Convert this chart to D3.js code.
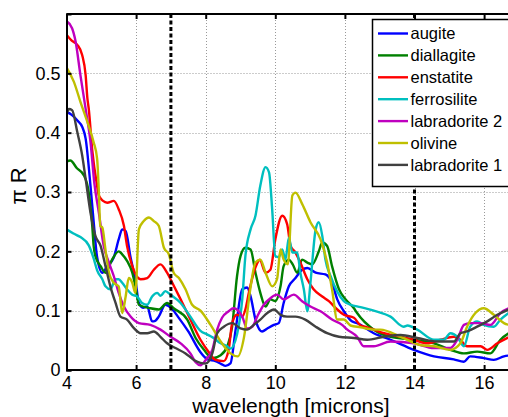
<!DOCTYPE html>
<html>
<head>
<meta charset="utf-8">
<script src="https://cdn.jsdelivr.net/npm/d3@7"></script>
<style>
  body { margin: 0; background: #fff; }
  svg { display: block; font-family: "Liberation Sans", Arial, sans-serif; }
</style>
</head>
<body>
<svg width="508" height="417"></svg>
<script>
// spectra, [wavelength, pi*R]
const augite = [[4.0,0.435],[4.15,0.43],[4.32,0.42],[4.45,0.41],[4.55,0.39],[4.69,0.31],[4.78,0.25],[4.88,0.19],[5.03,0.164],[5.17,0.175],[5.36,0.19],[5.5,0.22],[5.6,0.237],[5.7,0.234],[5.84,0.19],[5.98,0.152],[6.08,0.113],[6.2,0.105],[6.32,0.107],[6.46,0.082],[6.55,0.083],[6.65,0.09],[6.84,0.11],[7.0,0.105],[7.2,0.09],[7.5,0.065],[7.85,0.03],[8.05,0.018],[8.28,0.015],[8.45,0.01],[8.57,0.007],[8.71,0.011],[8.86,0.068],[9.05,0.136],[9.19,0.139],[9.29,0.124],[9.43,0.085],[9.62,0.065],[9.77,0.07],[9.96,0.076],[10.1,0.079],[10.24,0.113],[10.39,0.141],[10.58,0.155],[10.77,0.169],[10.92,0.172],[11.16,0.164],[11.44,0.161],[11.63,0.147],[11.78,0.119],[11.97,0.099],[12.2,0.082],[12.35,0.079],[12.83,0.062],[13.31,0.051],[13.98,0.034],[14.56,0.023],[15.13,0.018],[15.42,0.014],[15.6,0.023],[15.99,0.02],[16.28,0.017],[16.57,0.023],[16.8,0.025]];
const diallagite = [[4.0,0.351],[4.11,0.353],[4.3,0.34],[4.5,0.328],[4.64,0.299],[4.74,0.243],[4.78,0.209],[4.83,0.192],[4.98,0.175],[5.12,0.164],[5.31,0.186],[5.5,0.2],[5.6,0.195],[5.74,0.184],[5.89,0.164],[5.98,0.141],[6.08,0.11],[6.41,0.104],[6.65,0.102],[6.89,0.113],[7.08,0.104],[7.47,0.085],[7.71,0.054],[7.95,0.034],[8.19,0.02],[8.43,0.025],[8.62,0.04],[8.76,0.073],[8.9,0.158],[9.0,0.192],[9.14,0.206],[9.29,0.203],[9.43,0.164],[9.57,0.13],[9.72,0.107],[9.86,0.119],[10.0,0.116],[10.15,0.141],[10.24,0.175],[10.39,0.186],[10.5,0.178],[10.63,0.164],[10.77,0.186],[10.92,0.181],[11.06,0.178],[11.25,0.2],[11.35,0.215],[11.49,0.209],[11.63,0.175],[11.83,0.136],[12.02,0.119],[12.26,0.104],[12.35,0.096],[12.83,0.068],[13.31,0.056],[13.98,0.051],[14.56,0.045],[15.03,0.034],[15.42,0.028],[15.8,0.031],[16.18,0.028],[16.47,0.051],[16.8,0.065]];
const enstatite = [[4.0,0.565],[4.15,0.555],[4.31,0.548],[4.45,0.531],[4.55,0.497],[4.6,0.458],[4.64,0.44],[4.74,0.37],[4.88,0.31],[4.93,0.294],[5.05,0.285],[5.17,0.282],[5.36,0.285],[5.5,0.271],[5.65,0.243],[5.74,0.209],[5.89,0.175],[6.13,0.153],[6.32,0.155],[6.51,0.169],[6.7,0.178],[6.89,0.164],[7.04,0.147],[7.28,0.119],[7.56,0.085],[7.85,0.051],[8.09,0.03],[8.28,0.017],[8.52,0.015],[8.66,0.034],[8.76,0.079],[8.9,0.093],[9.05,0.09],[9.14,0.102],[9.24,0.13],[9.38,0.164],[9.48,0.18],[9.55,0.186],[9.72,0.164],[9.86,0.169],[10.0,0.22],[10.2,0.26],[10.34,0.246],[10.44,0.209],[10.58,0.198],[10.72,0.181],[10.92,0.153],[11.1,0.136],[11.35,0.124],[11.54,0.116],[11.78,0.102],[11.97,0.093],[12.26,0.088],[12.45,0.075],[12.64,0.072],[13.02,0.064],[13.6,0.056],[13.98,0.051],[14.36,0.045],[14.75,0.051],[15.13,0.056],[15.3,0.052],[15.51,0.04],[15.9,0.04],[16.09,0.034],[16.38,0.045],[16.8,0.058]];
const ferrosilite = [[4.0,0.237],[4.2,0.23],[4.4,0.224],[4.64,0.21],[4.78,0.188],[4.88,0.168],[5.03,0.153],[5.12,0.141],[5.26,0.136],[5.41,0.153],[5.5,0.153],[5.6,0.147],[5.74,0.136],[5.89,0.127],[6.03,0.124],[6.17,0.113],[6.32,0.11],[6.46,0.124],[6.61,0.13],[6.7,0.125],[6.84,0.133],[6.99,0.127],[7.28,0.113],[7.56,0.09],[7.85,0.066],[8.04,0.06],[8.2,0.055],[8.43,0.045],[8.62,0.04],[8.71,0.036],[8.9,0.06],[9.05,0.119],[9.14,0.192],[9.29,0.237],[9.43,0.26],[9.57,0.311],[9.72,0.342],[9.82,0.333],[9.91,0.271],[10.0,0.192],[10.1,0.19],[10.2,0.203],[10.29,0.186],[10.39,0.223],[10.49,0.198],[10.63,0.198],[10.72,0.164],[10.82,0.136],[10.92,0.099],[11.01,0.147],[11.16,0.237],[11.25,0.249],[11.35,0.226],[11.44,0.186],[11.59,0.158],[11.78,0.132],[11.97,0.116],[12.16,0.11],[12.45,0.106],[12.83,0.1],[13.31,0.09],[13.69,0.073],[13.8,0.075],[14.08,0.068],[14.56,0.051],[14.84,0.051],[15.03,0.062],[15.23,0.056],[15.42,0.04],[15.6,0.073],[15.8,0.082],[15.99,0.076],[16.28,0.073],[16.47,0.085],[16.8,0.1]];
const labradorite2 = [[4.0,0.588],[4.16,0.576],[4.26,0.554],[4.4,0.497],[4.55,0.44],[4.69,0.384],[4.8,0.315],[4.93,0.265],[5.07,0.209],[5.22,0.181],[5.36,0.158],[5.5,0.13],[5.65,0.107],[5.84,0.09],[6.08,0.079],[6.41,0.076],[6.7,0.068],[6.99,0.056],[7.28,0.045],[7.56,0.028],[7.71,0.013],[7.85,0.008],[8.0,0.017],[8.19,0.034],[8.33,0.068],[8.47,0.088],[8.66,0.099],[8.8,0.104],[9.05,0.09],[9.19,0.07],[9.34,0.073],[9.48,0.09],[9.67,0.11],[9.86,0.121],[10.05,0.127],[10.24,0.119],[10.53,0.127],[10.77,0.116],[11.01,0.107],[11.3,0.099],[11.63,0.085],[11.92,0.076],[12.07,0.068],[12.35,0.056],[12.54,0.04],[12.83,0.04],[13.31,0.048],[13.98,0.045],[14.56,0.037],[15.03,0.037],[15.23,0.051],[15.42,0.076],[15.6,0.079],[15.9,0.079],[16.18,0.076],[16.47,0.096],[16.8,0.106]];
const olivine = [[4.0,0.51],[4.21,0.486],[4.4,0.452],[4.6,0.418],[4.78,0.384],[4.88,0.356],[4.93,0.3],[4.97,0.243],[5.03,0.24],[5.12,0.203],[5.22,0.164],[5.36,0.147],[5.5,0.141],[5.6,0.096],[5.7,0.124],[5.79,0.155],[5.89,0.147],[5.98,0.13],[6.08,0.237],[6.22,0.251],[6.37,0.257],[6.51,0.251],[6.65,0.243],[6.8,0.206],[6.94,0.195],[7.08,0.164],[7.23,0.155],[7.42,0.136],[7.61,0.11],[7.85,0.1],[8.14,0.076],[8.43,0.048],[8.71,0.028],[8.92,0.023],[9.1,0.055],[9.29,0.14],[9.43,0.181],[9.57,0.186],[9.72,0.164],[9.91,0.141],[10.05,0.153],[10.15,0.203],[10.24,0.186],[10.36,0.178],[10.49,0.294],[10.58,0.299],[10.77,0.28],[11.01,0.249],[11.3,0.22],[11.49,0.181],[11.63,0.136],[11.78,0.085],[11.97,0.085],[12.16,0.075],[12.45,0.072],[12.83,0.068],[13.02,0.068],[13.6,0.056],[14.17,0.042],[14.56,0.04],[15.03,0.034],[15.32,0.045],[15.51,0.073],[15.75,0.096],[15.99,0.104],[16.28,0.093],[16.57,0.079],[16.8,0.075]];
const labradorite1 = [[4.0,0.43],[4.07,0.44],[4.16,0.438],[4.31,0.401],[4.45,0.362],[4.55,0.322],[4.69,0.265],[4.83,0.226],[4.98,0.209],[5.12,0.175],[5.26,0.141],[5.41,0.113],[5.55,0.09],[5.74,0.085],[5.93,0.071],[6.13,0.062],[6.32,0.062],[6.51,0.065],[6.7,0.056],[6.89,0.045],[7.13,0.037],[7.42,0.028],[7.66,0.017],[7.85,0.012],[8.0,0.011],[8.19,0.028],[8.33,0.062],[8.52,0.073],[8.76,0.079],[9.0,0.07],[9.19,0.068],[9.38,0.076],[9.57,0.085],[9.77,0.096],[9.96,0.102],[10.15,0.093],[10.34,0.09],[10.58,0.09],[10.86,0.085],[11.16,0.073],[11.49,0.062],[11.83,0.056],[12.26,0.054],[12.64,0.051],[13.12,0.056],[13.6,0.059],[14.08,0.054],[14.65,0.048],[15.13,0.048],[15.32,0.062],[15.51,0.065],[15.8,0.073],[16.09,0.082],[16.38,0.093],[16.8,0.104]];

const names = ["augite", "diallagite", "enstatite", "ferrosilite", "labradorite 2", "olivine", "labradorite 1"];
const colors = ["#0000ff", "#008000", "#ff0000", "#00bfbf", "#bf00bf", "#bfbf00", "#404040"];
const spectra = [augite, diallagite, enstatite, ferrosilite, labradorite2, olivine, labradorite1];

const xTicks = [4, 6, 8, 10, 12, 14, 16];
const yTicks = [0, 0.1, 0.2, 0.3, 0.4, 0.5];
const markers = [7, 14]; // dashed verticals

const svg = d3.select("svg");
const plotLeft = 66.5, plotTop = 14, plotBottom = 370;

const x = d3.scaleLinear().domain([4, 17]).range([plotLeft, plotLeft + 13 * 34.8]);
const y = d3.scaleLinear().domain([0, 0.6]).range([plotBottom, plotTop]);

svg.append("clipPath").attr("id", "clip")
  .append("rect").attr("x", plotLeft).attr("y", plotTop).attr("width", 600).attr("height", plotBottom - plotTop);

// grid
const grid = svg.append("g").attr("stroke", "#999").attr("stroke-width", 1).attr("stroke-dasharray", "1,2");
grid.selectAll(".gx").data(xTicks.slice(1)).enter().append("line")
  .attr("x1", d => Math.round(x(d)) + 0.5).attr("x2", d => Math.round(x(d)) + 0.5)
  .attr("y1", plotTop).attr("y2", plotBottom);
grid.selectAll(".gy").data(yTicks.slice(1)).enter().append("line")
  .attr("x1", plotLeft).attr("x2", 508)
  .attr("y1", d => Math.round(y(d)) + 0.5).attr("y2", d => Math.round(y(d)) + 0.5);

// spectra
const line = d3.line().x(d => x(d[0])).y(d => y(d[1])).curve(d3.curveMonotoneX);
svg.append("g").attr("clip-path", "url(#clip)")
  .selectAll("path").data(spectra).enter().append("path")
  .attr("d", line)
  .attr("fill", "none")
  .attr("stroke", (d, i) => colors[i])
  .attr("stroke-width", 2.4)
  .attr("stroke-linejoin", "round");

// dashed marker lines
svg.selectAll(".marker").data(markers).enter().append("line")
  .attr("x1", d => x(d)).attr("x2", d => x(d))
  .attr("y1", plotTop).attr("y2", plotBottom)
  .attr("stroke", "#000").attr("stroke-width", 3).attr("stroke-dasharray", "4,2.5");

// axes
const xAxis = d3.axisBottom(x).tickValues(xTicks).tickSize(-5).tickPadding(6).tickFormat(d3.format("d"));
const gx = svg.append("g").attr("transform", `translate(0,${plotBottom})`).call(xAxis);
const xTop = d3.axisTop(x).tickValues(xTicks).tickSize(-5).tickFormat("");
const gxt = svg.append("g").attr("transform", `translate(0,${plotTop})`).call(xTop);
const yAxis = d3.axisLeft(y).tickValues(yTicks).tickSize(-5).tickPadding(6).tickFormat(d => d === 0 ? "0" : d3.format(".1f")(d));
const gy = svg.append("g").attr("transform", `translate(${plotLeft},0)`).call(yAxis);

[gx, gxt, gy].forEach(g => {
  g.select(".domain").attr("stroke", "#000").attr("stroke-width", 2);
  g.selectAll(".tick line").attr("stroke", "#000").attr("stroke-width", 2);
  g.selectAll("text").attr("fill", "#000").style("font-size", "18px").attr("font-family", null);
});
gx.select(".domain").attr("d", `M${plotLeft},0H600`);
gxt.select(".domain").attr("d", `M${plotLeft},0H600`);

// labels
svg.append("text").attr("x", 291).attr("y", 412.5).attr("text-anchor", "middle")
  .style("font-size", "21px").text("wavelength [microns]");
svg.append("text").attr("transform", "translate(26,186) rotate(-90)").attr("text-anchor", "middle")
  .style("font-size", "22px").text("π R");

// legend
const legend = svg.append("g");
legend.append("rect").attr("x", 372.5).attr("y", 19.5).attr("width", 200).attr("height", 167)
  .attr("fill", "#fff").attr("stroke", "#000").attr("stroke-width", 1.5);
const item = legend.selectAll(".item").data(names).enter().append("g")
  .attr("transform", (d, i) => `translate(0,${33.5 + i * 21.9})`);
item.append("line").attr("x1", 378).attr("x2", 408).attr("y1", 0).attr("y2", 0)
  .attr("stroke", (d, i) => colors[i]).attr("stroke-width", 2.4);
item.append("text").attr("x", 410.5).attr("y", 0).attr("dy", "0.36em")
  .style("font-size", "16.5px").text(d => d);
</script>
</body>
</html>
